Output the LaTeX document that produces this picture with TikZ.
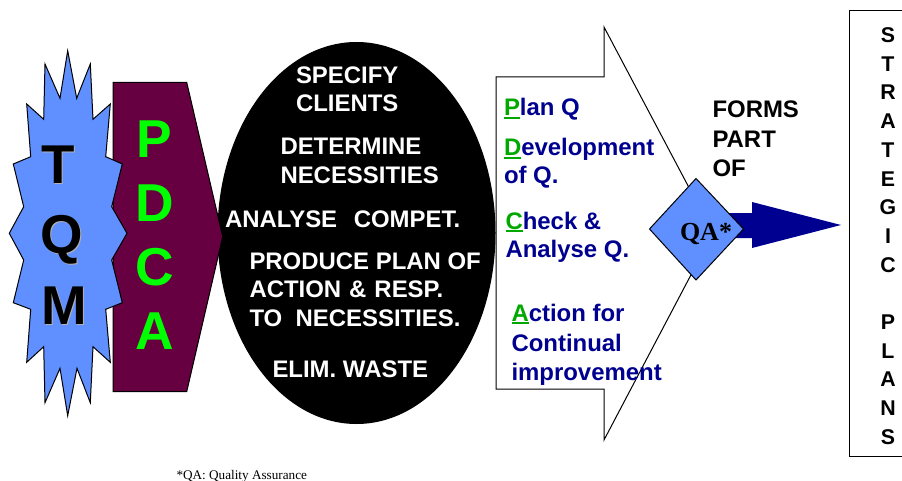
\documentclass[tikz,border=0pt]{standalone}
\usepackage{fontspec}
\setmainfont{Liberation Sans}
\newfontfamily\serifface{Liberation Serif}
\definecolor{starblue}{HTML}{6090FF}
\definecolor{plum}{HTML}{660040}
\definecolor{navyb}{HTML}{000090}
\definecolor{lime}{HTML}{00FF00}
\definecolor{leaf}{HTML}{00A800}
\newcommand{\initial}[1]{\textcolor{leaf}{\setbox0\hbox{#1}\rlap{\rule[-2.1pt]{\wd0}{1.5pt}}\box0}}
\tikzset{
  x=0.75pt,y=-0.75pt,
  shape line/.style={draw=black,line width=0.75pt,line join=miter},
  label base/.style={inner sep=0pt,outer sep=0pt,anchor=base west},
  white text/.style={label base,text=white,font=\fontsize{17.95}{17.95}\selectfont\bfseries},
  black text/.style={label base,text=black,font=\fontsize{17.95}{17.95}\selectfont\bfseries},
  navy text/.style={label base,text=navyb,font=\fontsize{17.95}{17.95}\selectfont\bfseries},
  plan text/.style={inner sep=0pt,anchor=base,text=black,font=\fontsize{16}{16}\selectfont\bfseries},
  pdca text/.style={inner sep=0pt,anchor=base,text=lime,font=\fontsize{40}{40}\selectfont\bfseries},
  tqm text/.style={inner sep=0pt,anchor=base,text=black,font=\fontsize{41}{41}\selectfont\bfseries},
  tqm shade/.style={inner sep=0pt,anchor=base,text=black!30,font=\fontsize{41}{41}\selectfont\bfseries},
}
\begin{document}
\begin{tikzpicture}
\useasboundingbox (0,0) rectangle (902,481);
% ellipse
\fill[black] (356.5,233) ellipse [x radius=139,y radius=191];
% pentagon
\draw[shape line,fill=plum] (113,82.3) -- (186.7,82.3) -- (222.7,236.7) -- (186.7,391.7) -- (113,391.7) -- cycle;
% star
\draw[shape line,fill=starblue] (67.7,50.7) -- (76.7,98.3) -- (90.3,64) -- (93,119.3) -- (110.3,104) -- (105.7,156.7) -- (122.3,164) -- (111.7,206.7) -- (127,233.3) -- (111.7,260) -- (122.3,302.7) -- (105.7,309.3) -- (110.3,362.3) -- (93,346.7) -- (90.3,402.7) -- (77,368.3) -- (67.7,415.7) -- (60,368.3) -- (45,402.7) -- (43.7,346.7) -- (26.7,362.3) -- (30.7,309.3) -- (13.3,302.7) -- (23.7,260) -- (9.3,233.3) -- (23.7,206.7) -- (13.3,164) -- (30.7,156.7) -- (26.7,104) -- (43.7,119.3) -- (45,64) -- (60,98.3) -- cycle;
% block arrow
\draw[shape line,fill=white] (496,77) -- (604,77) -- (604,27) -- (713,233) -- (604,440) -- (604,389) -- (496,389) -- cycle;
% pointer
\fill[navyb] (725,213) -- (752,213) -- (752,202) -- (841,225) -- (752,248) -- (752,238) -- (725,238) -- cycle;
% diamond
\draw[shape line,fill=starblue] (696,178.5) -- (743.5,229) -- (696,280) -- (649.5,229) -- cycle;
% right box
\draw[shape line] (902,10.5) -- (849.5,10.5) -- (849.5,456) -- (902,456);
% TQM
\node[tqm shade] (ts) at (59.5,184) {T};
\node[tqm text] (t) at (58.5,183) {T};
\node[tqm shade] (qs) at (63,254) {Q};
\node[tqm text] (q) at (62,253) {Q};
\node[tqm shade] (ms) at (65.5,325) {M};
\node[tqm text] (m) at (64.5,324) {M};
% PDCA
\node[pdca text] (p1) at (154,157) {P};
\node[pdca text] (d1) at (155,221) {D};
\node[pdca text] (c1) at (155,285) {C};
\node[pdca text] (a1) at (155,349) {A};
% ellipse text
\node[white text] (e1) at (296,83.5) {SPECIFY};
\node[white text] (e2) at (296,111.5) {CLIENTS};
\node[white text] (e3) at (280.5,155) {DETERMINE};
\node[white text] (e4) at (280.5,183.5) {NECESSITIES};
\node[white text] (e5) at (225,227) {ANALYSE\ \ \hspace{2.5pt}COMPET.};
\node[white text] (e6) at (249.5,269) {PRODUCE PLAN OF};
\node[white text] (e7) at (249.5,297.5) {ACTION\hspace{1pt} \&\hspace{1pt} RESP.};
\node[white text] (e8) at (249.5,326.5) {TO\ \ NECESSITIES.};
\node[white text] (e9) at (272.5,377.5) {ELIM. WASTE};
% arrow text
\node[navy text] (b1) at (504,116) {\initial{P}lan Q};
\node[navy text] (b2) at (504,156) {\initial{D}evelopment};
\node[navy text] (b3) at (504,183) {of Q.};
\node[navy text] (b4) at (505.5,229) {\initial{C}heck \&};
\node[navy text] (b5) at (505.5,257) {Analyse Q.};
\node[navy text] (b6) at (511.5,321.5) {\initial{A}ction for};
\node[navy text] (b7) at (511.5,351.5) {Continual};
\node[navy text] (b8) at (511.5,380) {improvement};
% forms part of
\node[black text] (f1) at (712.5,117.5) {FORMS};
\node[black text] (f2) at (712.5,147) {PART};
\node[black text] (f3) at (712.5,176) {OF};
% QA
\node[label base,font=\serifface\fontsize{19.5}{19.5}\selectfont\bfseries] (qa) at (680,240) {QA*};
% strategic plans
\foreach \ch [count=\i from 0] in {S,T,R,A,T,E,G,I,C,{},P,L,A,N,S}{
  \node[plan text] (s\i) at (888,{42.5+28.7*\i}) {\ch};
}
% footnote
\node[label base,font=\serifface\fontsize{9.9}{9.9}\selectfont] (fn) at (176.5,479) {*QA: Quality Assurance};
\end{tikzpicture}
\end{document}
